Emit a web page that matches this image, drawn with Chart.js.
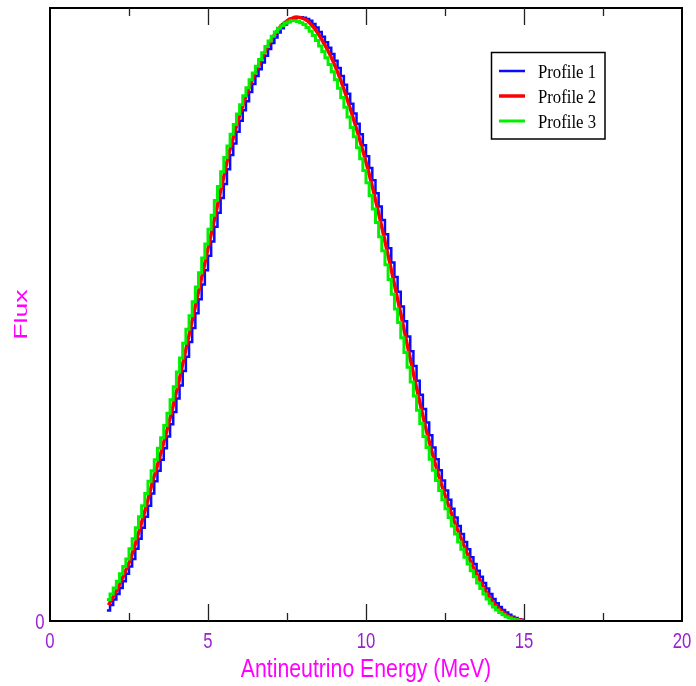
<!DOCTYPE html>
<html>
<head>
<meta charset="utf-8">
<title>Antineutrino flux</title>
<script src="https://cdn.jsdelivr.net/npm/chart.js@4.4.1/dist/chart.umd.min.js"></script>
<style>
  html, body { margin: 0; padding: 0; background: #ffffff; }
  #wrap { width: 696px; height: 686px; }
</style>
</head>
<body>
<div id="wrap"><canvas id="fluxChart" width="696" height="686"></canvas></div>
<script>
// Bin edges (MeV), 0.1 MeV wide bins from 1.8 to 15
const binEdgesMeV = [
  1.8, 1.9, 2.0, 2.1, 2.2, 2.3, 2.4, 2.5, 2.6, 2.7, 2.8, 2.9, 3.0, 3.1, 3.2, 3.3, 3.4, 3.5, 3.6, 3.7,
  3.8, 3.9, 4.0, 4.1, 4.2, 4.3, 4.4, 4.5, 4.6, 4.7, 4.8, 4.9, 5.0, 5.1, 5.2, 5.3, 5.4, 5.5, 5.6, 5.7,
  5.8, 5.9, 6.0, 6.1, 6.2, 6.3, 6.4, 6.5, 6.6, 6.7, 6.8, 6.9, 7.0, 7.1, 7.2, 7.3, 7.4, 7.5, 7.6, 7.7,
  7.8, 7.9, 8.0, 8.1, 8.2, 8.3, 8.4, 8.5, 8.6, 8.7, 8.8, 8.9, 9.0, 9.1, 9.2, 9.3, 9.4, 9.5, 9.6, 9.7,
  9.8, 9.9, 10.0, 10.1, 10.2, 10.3, 10.4, 10.5, 10.6, 10.7, 10.8, 10.9, 11.0, 11.1, 11.2, 11.3, 11.4, 11.5, 11.6, 11.7,
  11.8, 11.9, 12.0, 12.1, 12.2, 12.3, 12.4, 12.5, 12.6, 12.7, 12.8, 12.9, 13.0, 13.1, 13.2, 13.3, 13.4, 13.5, 13.6, 13.7,
  13.8, 13.9, 14.0, 14.1, 14.2, 14.3, 14.4, 14.5, 14.6, 14.7, 14.8, 14.9, 15.0
];

// Profile 1 (blue) - one value per bin
const profile1Flux = [
  0.017, 0.026, 0.035, 0.044, 0.054, 0.065, 0.077, 0.089, 0.101, 0.118,
  0.134, 0.152, 0.170, 0.188, 0.208, 0.228, 0.245, 0.263, 0.282, 0.301,
  0.321, 0.341, 0.363, 0.384, 0.408, 0.431, 0.455, 0.478, 0.502, 0.525,
  0.549, 0.572, 0.596, 0.619, 0.643, 0.666, 0.690, 0.713, 0.737, 0.760,
  0.779, 0.798, 0.816, 0.833, 0.848, 0.863, 0.876, 0.889, 0.900, 0.911,
  0.922, 0.933, 0.943, 0.952, 0.960, 0.967, 0.973, 0.977, 0.981, 0.983,
  0.985, 0.985, 0.984, 0.982, 0.979, 0.974, 0.968, 0.961, 0.953, 0.944,
  0.935, 0.925, 0.914, 0.902, 0.889, 0.875, 0.860, 0.844, 0.828, 0.811,
  0.794, 0.776, 0.758, 0.739, 0.719, 0.698, 0.676, 0.654, 0.631, 0.608,
  0.585, 0.561, 0.537, 0.513, 0.489, 0.464, 0.440, 0.416, 0.392, 0.369,
  0.346, 0.324, 0.303, 0.283, 0.264, 0.246, 0.229, 0.213, 0.198, 0.183,
  0.169, 0.155, 0.142, 0.129, 0.117, 0.104, 0.093, 0.082, 0.072, 0.062,
  0.053, 0.044, 0.036, 0.029, 0.023, 0.018, 0.014, 0.010, 0.007, 0.005,
  0.003, 0.002
];

// Profile 2 (red)
const profile2Flux = [
  0.026, 0.035, 0.044, 0.054, 0.065, 0.077, 0.089, 0.101, 0.118,
  0.134, 0.152, 0.170, 0.188, 0.208, 0.228, 0.245, 0.263, 0.282, 0.301,
  0.321, 0.341, 0.363, 0.384, 0.408, 0.431, 0.455, 0.478, 0.502, 0.525,
  0.549, 0.572, 0.596, 0.619, 0.643, 0.666, 0.690, 0.713, 0.737, 0.760,
  0.779, 0.798, 0.816, 0.833, 0.848, 0.863, 0.876, 0.889, 0.900, 0.911,
  0.922, 0.933, 0.943, 0.952, 0.960, 0.967, 0.973, 0.977, 0.981, 0.983,
  0.985, 0.985, 0.984, 0.982, 0.979, 0.974, 0.968, 0.961, 0.953, 0.944,
  0.935, 0.925, 0.914, 0.902, 0.889, 0.875, 0.860, 0.844, 0.828, 0.811,
  0.794, 0.776, 0.758, 0.739, 0.719, 0.698, 0.676, 0.654, 0.631, 0.608,
  0.585, 0.561, 0.537, 0.513, 0.489, 0.464, 0.440, 0.416, 0.392, 0.369,
  0.346, 0.324, 0.303, 0.283, 0.264, 0.246, 0.229, 0.213, 0.198, 0.183,
  0.169, 0.155, 0.142, 0.129, 0.117, 0.104, 0.093, 0.082, 0.072, 0.062,
  0.053, 0.044, 0.036, 0.029, 0.023, 0.018, 0.014, 0.010, 0.007, 0.005,
  0.003, 0.002, 0.001
];

// Profile 3 (green)
const profile3Flux = [
  0.035, 0.044, 0.054, 0.065, 0.077, 0.089, 0.101, 0.118,
  0.134, 0.152, 0.170, 0.188, 0.208, 0.228, 0.245, 0.263, 0.282, 0.299,
  0.319, 0.339, 0.361, 0.382, 0.406, 0.429, 0.453, 0.476, 0.498, 0.521,
  0.545, 0.568, 0.592, 0.615, 0.639, 0.662, 0.686, 0.709, 0.733, 0.756,
  0.775, 0.794, 0.810, 0.827, 0.842, 0.857, 0.870, 0.883, 0.894, 0.905,
  0.916, 0.927, 0.937, 0.946, 0.954, 0.961, 0.967, 0.971, 0.975, 0.977,
  0.979, 0.979, 0.978, 0.976, 0.973, 0.968, 0.962, 0.955, 0.947, 0.938,
  0.929, 0.919, 0.908, 0.896, 0.883, 0.869, 0.854, 0.838, 0.822, 0.805,
  0.790, 0.772, 0.754, 0.735, 0.715, 0.694, 0.672, 0.650, 0.627, 0.604,
  0.581, 0.557, 0.533, 0.509, 0.487, 0.462, 0.438, 0.414, 0.390, 0.367,
  0.344, 0.322, 0.301, 0.283, 0.264, 0.246, 0.229, 0.213, 0.198, 0.183,
  0.169, 0.155, 0.142, 0.129, 0.117, 0.104, 0.093, 0.082, 0.072, 0.062,
  0.053, 0.044, 0.036, 0.029, 0.023, 0.018, 0.014, 0.010, 0.007, 0.005,
  0.003, 0.002, 0.001, 0.000
];

const seriesNames = ['Profile 1', 'Profile 2', 'Profile 3'];
const xTickValues = [0, 5, 10, 15, 20];
const xMinorTickValues = [2.5, 7.5, 12.5, 17.5];
const yTickValues = [0];

const COL_BLUE = '#0a0aff';
const COL_RED = '#ff0000';
const COL_GREEN = '#00f000';
const COL_TICKLABEL = '#9a1ed2';
const COL_TITLE = '#ff00ff';
const SANS = '"Liberation Sans", Arial, sans-serif';
const SERIF = '"Liberation Serif", "Times New Roman", serif';

// histogram -> points at the left edge of each bin, plus closing point
function stepPoints(values) {
  const pts = values.map((v, i) => ({ x: binEdgesMeV[i], y: v }));
  pts.push({ x: binEdgesMeV[values.length], y: values[values.length - 1] });
  return pts;
}

// smooth curve through the bin centres
function centrePoints(values) {
  return values.map((v, i) => ({ x: (binEdgesMeV[i] + binEdgesMeV[i + 1]) / 2, y: v }));
}

// text squeezed horizontally like the original
function squeezedText(ctx, text, x, y, font, color, sx, align) {
  ctx.save();
  ctx.font = font;
  ctx.fillStyle = color;
  ctx.textAlign = align || 'center';
  ctx.textBaseline = 'alphabetic';
  ctx.translate(x, y);
  ctx.scale(sx, 1);
  ctx.fillText(text, 0, 0);
  ctx.restore();
}

const decorPlugin = {
  id: 'decor',
  afterDatasetsDraw(chart) {
    const ctx = chart.ctx;
    const a = chart.chartArea;
    const xs = chart.scales.x;
    const ys = chart.scales.y;

    // frame
    ctx.save();
    ctx.strokeStyle = '#000';
    ctx.lineWidth = 2;
    ctx.strokeRect(a.left, a.top, a.right - a.left, a.bottom - a.top);

    // ticks, pointing inwards on top and bottom
    ctx.strokeStyle = '#222';
    ctx.lineWidth = 1.3;
    const drawTick = (v, len) => {
      const px = Math.round(xs.getPixelForValue(v)) + 0.5;
      ctx.beginPath();
      ctx.moveTo(px, a.bottom);
      ctx.lineTo(px, a.bottom - len);
      ctx.moveTo(px, a.top);
      ctx.lineTo(px, a.top + len);
      ctx.stroke();
    };
    xTickValues.slice(1, -1).forEach(v => drawTick(v, 17));
    xMinorTickValues.forEach(v => drawTick(v, 8));
    ctx.restore();

    // tick labels
    xTickValues.forEach(v => {
      squeezedText(ctx, String(v), xs.getPixelForValue(v), 648, '22px ' + SANS, COL_TICKLABEL, 0.76);
    });
    yTickValues.forEach(v => {
      squeezedText(ctx, String(v), 40, ys.getPixelForValue(v) + 8, '22px ' + SANS, COL_TICKLABEL, 0.76);
    });

    // axis titles
    squeezedText(ctx, 'Antineutrino Energy (MeV)', (a.left + a.right) / 2, 677, '25px ' + SANS, COL_TITLE, 0.85);
    ctx.save();
    ctx.translate(27, (a.top + a.bottom) / 2);
    ctx.rotate(-Math.PI / 2);
    ctx.scale(1.4, 1);
    ctx.font = '19px ' + SANS;
    ctx.fillStyle = COL_TITLE;
    ctx.textAlign = 'center';
    ctx.fillText('Flux', 0, 0);
    ctx.restore();

    // legend box
    const colors = [COL_BLUE, COL_RED, COL_GREEN];
    const widths = [2.5, 3.5, 3];
    ctx.save();
    ctx.fillStyle = '#fff';
    ctx.fillRect(491.5, 52.5, 113.5, 86.5);
    ctx.strokeStyle = '#000';
    ctx.lineWidth = 1.5;
    ctx.strokeRect(491.5, 52.5, 113.5, 86.5);
    seriesNames.forEach((name, i) => {
      const ly = 71 + i * 25;
      ctx.strokeStyle = colors[i];
      ctx.lineWidth = widths[i];
      ctx.beginPath();
      ctx.moveTo(499, ly);
      ctx.lineTo(525, ly);
      ctx.stroke();
      squeezedText(ctx, name, 538, ly + 6.5, '19px ' + SERIF, '#000', 0.88, 'left');
    });
    ctx.restore();
  }
};

function renderFluxChart() {
  const ctx = document.getElementById('fluxChart').getContext('2d');
  new Chart(ctx, {
    type: 'line',
    data: {
      datasets: [
        { label: seriesNames[2], data: stepPoints(profile3Flux), borderColor: COL_GREEN, borderWidth: 3, stepped: 'before' },
        { label: seriesNames[1], data: centrePoints(profile2Flux), borderColor: COL_RED, borderWidth: 3.5, tension: 0.3 },
        { label: seriesNames[0], data: stepPoints(profile1Flux), borderColor: COL_BLUE, borderWidth: 2.5, stepped: 'before' }
      ]
    },
    options: {
      responsive: false,
      animation: false,
      events: [],
      layout: { padding: { left: 50, right: 14, top: 8, bottom: 65 } },
      elements: { point: { radius: 0 }, line: { fill: false, borderJoinStyle: 'miter' } },
      scales: {
        x: { type: 'linear', min: 0, max: 20, display: false },
        y: { type: 'linear', min: 0, max: 1, display: false }
      },
      plugins: { legend: { display: false }, tooltip: { enabled: false } }
    },
    plugins: [decorPlugin]
  });
}

document.addEventListener('DOMContentLoaded', renderFluxChart);
</script>
</body>
</html>
